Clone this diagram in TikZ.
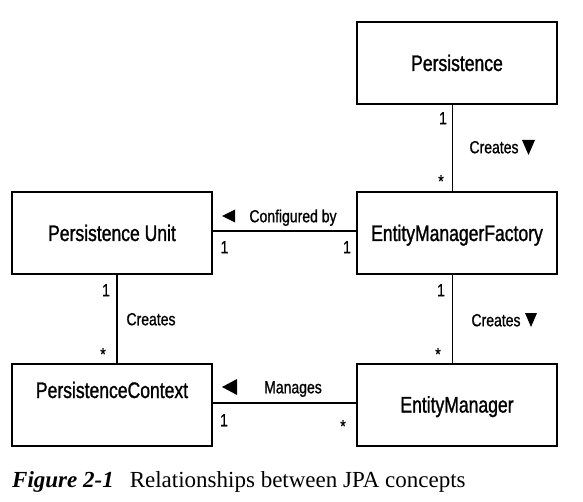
\documentclass[tikz,border=0pt]{standalone}
\usepackage{fontspec}
\newfontfamily\boxfont[FakeStretch=0.78,FakeBold=1.2]{Liberation Sans}
\newfontfamily\lblfont[FakeStretch=0.8,FakeBold=1.0]{Liberation Sans}
\newfontfamily\capfont{Liberation Serif}
\begin{document}
\begin{tikzpicture}[x=1pt,y=-1pt,
  box/.style={draw,line width=2pt,minimum width=200pt,minimum height=82pt,inner sep=0pt,
    font=\boxfont\fontsize{22.5}{27}\selectfont,text height=16pt,text depth=0pt},
  lbl/.style={inner sep=0pt,font=\lblfont\fontsize{17.5}{21}\selectfont,text height=12.5pt,text depth=0pt},
  conn/.style={line width=1.6pt},
  tri/.style={fill=black}]
\useasboundingbox (0,0) rectangle (583,502);
% boxes
\node[box] (p) at (457,63) {Persistence};
\node[box] (pu) at (112,233) {Persistence Unit};
\node[box] (emf) at (457,233) {EntityManagerFactory};
\node[box,text depth=29pt] (pc) at (112,404.5) {PersistenceContext};
\node[box] (em) at (457,404.5) {EntityManager};
% connectors
\draw[conn] ([xshift=-4.5pt]p.south) -- ([xshift=-4.5pt]emf.north);
\draw[conn] ([yshift=2pt]pu.east) -- ([yshift=2pt]emf.west);
\draw[conn] ([xshift=5pt]pu.south) -- ([xshift=5pt]pc.north);
\draw[conn] ([xshift=-4.5pt]emf.south) -- ([xshift=-4.5pt]em.north);
\draw[conn] ([yshift=1.5pt]pc.east) -- ([yshift=1.5pt]em.west);
% Persistence -> EMF
\node[lbl] (m1) at (443,118) {1};
\node[lbl] (m2) at (441,181) {*};
\node[lbl] (c1) at (494,147) {Creates};
\fill[tri] (522,140) -- (535,140) -- (528.5,155) -- cycle;
% Configured by
\fill[tri] (222,216) -- (235,209.5) -- (235,222.5) -- cycle;
\node[lbl] (c2) at (293,216) {Configured by};
\node[lbl] (m3) at (224.5,247) {1};
\node[lbl] (m4) at (347,247) {1};
% PU -> PC
\node[lbl] (m5) at (106,290) {1};
\node[lbl] (c3) at (151,319) {Creates};
\node[lbl] (m6) at (103,354) {*};
% EMF -> EM
\node[lbl] (m7) at (441,290) {1};
\node[lbl] (c4) at (496,320) {Creates};
\fill[tri] (525,313) -- (537,313) -- (531,327) -- cycle;
\node[lbl] (m8) at (438,354) {*};
% Manages
\fill[tri] (222,387) -- (237,379) -- (237,395) -- cycle;
\node[lbl] (c5) at (293,387) {Manages};
\node[lbl] (m9) at (224,420) {1};
\node[lbl] (m10) at (343,426) {*};
% caption
\node[anchor=base west,inner sep=0pt,font=\capfont\fontsize{23}{27}\selectfont] (cap) at (12,487)
  {\textbf{\textit{Figure 2-1}}\hspace{16pt}Relationships between JPA concepts};
\end{tikzpicture}
\end{document}
